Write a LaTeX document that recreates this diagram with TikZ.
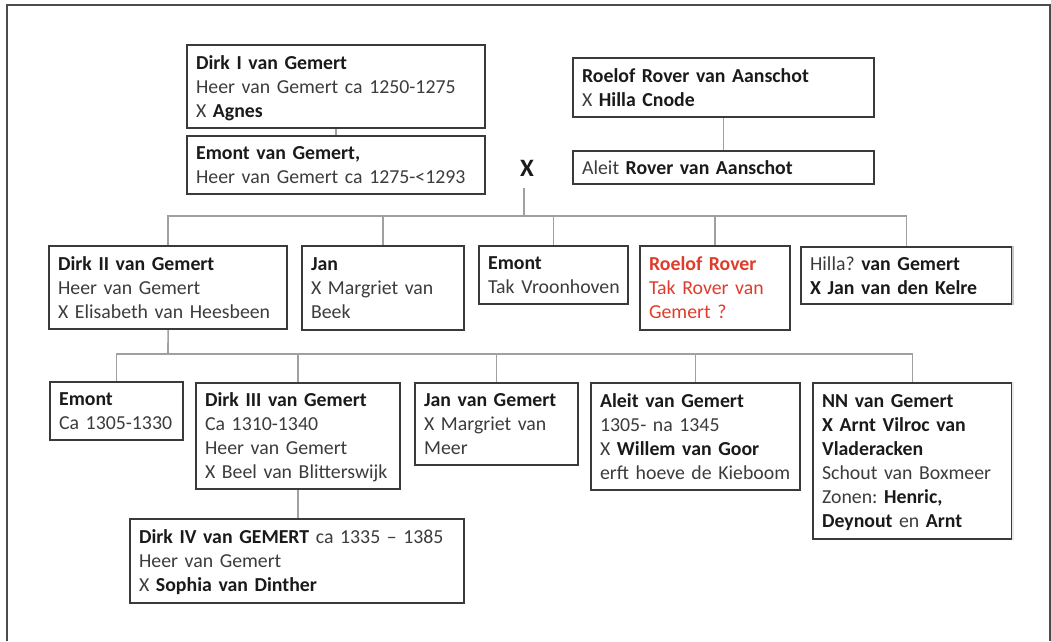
\documentclass[tikz,border=0pt]{standalone}
\usepackage{fontspec}
\setmainfont{Carlito}
\frenchspacing
\definecolor{boxc}{HTML}{3A3A3A}
\definecolor{connc}{HTML}{A0A0A0}
\definecolor{txtc}{HTML}{3C3C3C}
\definecolor{boldc}{HTML}{1A1A1A}
\definecolor{redc}{HTML}{E03C2C}
\newcommand\myln[1]{\mbox{\rule[-5.2pt]{0pt}{24pt}#1}}
\newcommand\bd[1]{\textbf{\color{boldc}#1}}
\begin{document}
\begin{tikzpicture}[x=1pt,y=-1pt,
  box/.style={draw=boxc, line width=2.2pt, fill=white, inner xsep=9pt, inner ysep=0pt,
    align=left, anchor=north west, font=\fontsize{19.8}{24}\selectfont, text=txtc},
  conn/.style={draw=connc, line width=1.6pt},
  framel/.style={draw=black!70, line width=2.2pt}]
\useasboundingbox (0,0) rectangle (1051,641);
% frame
\draw[framel] (7,641) -- (7,5) -- (1050,5) -- (1050,641);

% generation 1
\node[box, text width=280pt, minimum height=83pt] (dirk1) at (186,44)
  {\myln{\bd{Dirk I van Gemert}}\\\myln{Heer van Gemert ca 1250-1275}\\\myln{X \bd{Agnes}}};
\node[box, text width=280pt, minimum height=58pt] (emont1) at (186,135)
  {\myln{\bd{Emont van Gemert,}}\\\myln{Heer van Gemert ca 1275-<1293}};
\node[box, text width=283pt, minimum height=59pt] (roelof1) at (572,57)
  {\myln{\bd{Roelof Rover van Aanschot}}\\\myln{X \bd{Hilla Cnode}}};
\node[box, text width=283pt, minimum height=33pt] (aleit1) at (572,150)
  {\myln{Aleit \bd{Rover van Aanschot}}};
\node[font=\fontsize{25}{30}\selectfont\bfseries, text=boldc, inner sep=0pt] (xm) at (527,168) {X};

% generation 2
\node[box, text width=220pt, minimum height=83pt] (dirk2) at (48,245)
  {\myln{\bd{Dirk II van Gemert}}\\\myln{Heer van Gemert}\\\myln{X Elisabeth van Heesbeen}};
\node[box, text width=144pt, minimum height=84pt] (jan2) at (301,245)
  {\myln{\bd{Jan}}\\\myln{X Margriet van}\\\myln{Beek}};
\node[box, text width=131pt, minimum height=58pt] (emont2) at (478,245)
  {\myln{\bd{Emont}}\\\myln{Tak Vroonhoven}};
\node[box, text width=132pt, minimum height=84pt, text=redc] (rover2) at (639,245)
  {\myln{\textbf{Roelof Rover}}\\\myln{Tak Rover van}\\\myln{Gemert ?}};
\node[box, text width=193pt, minimum height=57pt] (hilla2) at (800,246)
  {\myln{Hilla? \bd{van Gemert}}\\\myln{\bd{X Jan van den Kelre}}};
\draw[draw=black!22, line width=2.2pt] (hilla2.north east) -- (hilla2.south east);

% generation 3
\node[box, text width=115pt, minimum height=58pt] (emont3) at (49,381)
  {\myln{\bd{Emont}}\\\myln{Ca 1305-1330}};
\node[box, text width=186pt, minimum height=106pt] (dirk3) at (195,382)
  {\myln{\bd{Dirk III van Gemert}}\\\myln{Ca 1310-1340}\\\myln{Heer van Gemert}\\\myln{X Beel van Blitterswijk}};
\node[box, text width=145pt, minimum height=82pt] (jan3) at (414,382)
  {\myln{\bd{Jan van Gemert}}\\\myln{X Margriet van}\\\myln{Meer}};
\node[box, text width=191pt, minimum height=107pt] (aleit3) at (590,382)
  {\myln{\bd{Aleit van Gemert}}\\\myln{1305- na 1345}\\\myln{X \bd{Willem van Goor}}\\\myln{erft hoeve de Kieboom}};
\node[box, text width=181pt, minimum height=156pt] (nn3) at (812,382)
  {\myln{\bd{NN van Gemert}}\\\myln{\bd{X Arnt Vilroc van}}\\\myln{\bd{Vladeracken}}\\\myln{Schout van Boxmeer}\\\myln{Zonen: \bd{Henric,}}\\\myln{\bd{Deynout} en \bd{Arnt}}};
\draw[draw=black!8, line width=2.2pt] (nn3.north east) -- (nn3.south east);

% generation 4
\node[box, text width=316pt, minimum height=84pt] (dirk4) at (129,518)
  {\myln{\bd{Dirk IV van GEMERT} ca 1335 -- 1385}\\\myln{Heer van Gemert}\\\myln{X \bd{Sophia van Dinther}}};

% connectors
\coordinate (xtop) at (524,188);
\coordinate (xj) at (524,216);
\coordinate (yj) at (168,354);
\draw[conn] (dirk1.south) -- (emont1.north);
\draw[conn] (roelof1.south) -- (aleit1.north);
\draw[conn] (xtop) -- (xj);
\draw[conn] (dirk2.north) -- (dirk2.north |- xj) -- (hilla2.north |- xj) -- (hilla2.north);
\draw[conn] (jan2.north) -- (jan2.north |- xj);
\draw[conn] (emont2.north) -- (emont2.north |- xj);
\draw[conn] (rover2.north) -- (rover2.north |- xj);
\draw[conn] (dirk2.south) -- (yj);
\draw[conn] (emont3.north) -- (emont3.north |- yj) -- (nn3.north |- yj) -- (nn3.north);
\draw[conn] (dirk3.north) -- (dirk3.north |- yj);
\draw[conn] (jan3.north) -- (jan3.north |- yj);
\draw[conn] (aleit3.north) -- (aleit3.north |- yj);
\draw[conn] (dirk3.south) -- (dirk3.south |- dirk4.north);
\end{tikzpicture}
\end{document}
